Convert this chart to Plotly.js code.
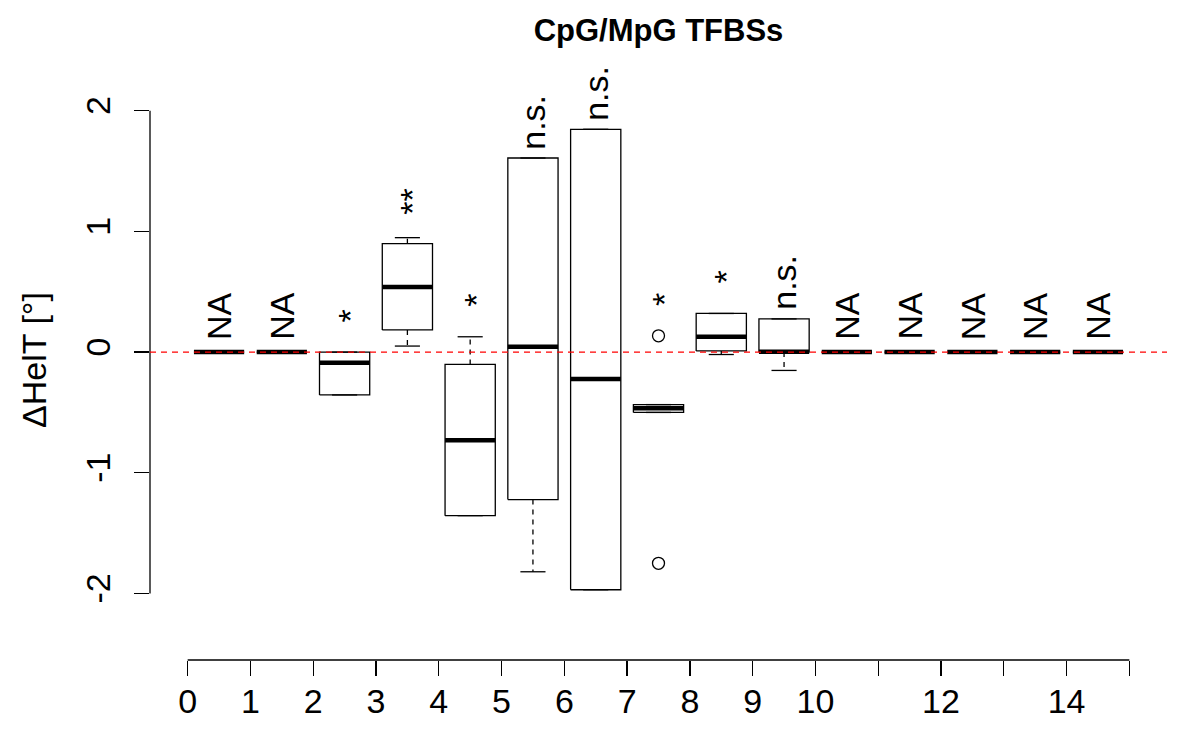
<!DOCTYPE html>
<html>
<head>
<meta charset="utf-8">
<script src="https://cdn.plot.ly/plotly-3.0.1.min.js"></script>
<style>html,body{margin:0;padding:0;background:#fff;}#chart{width:1200px;height:750px;}</style>
</head>
<body>
<div id="chart"></div>
<script>
// ---- data ----
const groups      = [0,1,2,3,4,5,6,7,8,9,10,11,12,13,14];
const lowerFence  = [0, 0, -0.355, 0.050, -1.355, -1.820, -1.969, -0.500, -0.020, -0.152, 0, 0, 0, 0, 0];
const q1Values    = [0, 0, -0.355, 0.184, -1.355, -1.222, -1.969, -0.500,  0.010,  0.000, 0, 0, 0, 0, 0];
const medians     = [0, 0, -0.088, 0.540, -0.730,  0.045, -0.223, -0.465,  0.128,  0.003, 0, 0, 0, 0, 0];
const q3Values    = [0, 0,  0.000, 0.898, -0.102,  1.608,  1.846, -0.435,  0.320,  0.275, 0, 0, 0, 0, 0];
const upperFence  = [0, 0,  0.000, 0.948,  0.127,  1.608,  1.846, -0.435,  0.320,  0.275, 0, 0, 0, 0, 0];
const outlierGroup  = [7, 7];
const outlierValues = [0.135, -1.750];
const sigLabels   = ["NA","NA","*","**","*","n.s.","n.s.","*","*","n.s.","NA","NA","NA","NA","NA"];
const xTickValues = [0,1,2,3,4,5,6,7,8,9,10,11,12,13,14,15];
const xTickLabels = ["0","1","2","3","4","5","6","7","8","9","10","","12","","14",""];
const yTickValues = [-2,-1,0,1,2];
const yTickLabels = ["-2","-1","0","1","2"];
const titleText   = "CpG/MpG TFBSs";
const yTitleText  = "\u0394HelT [\u00b0]";

// ---- geometry helpers (R boxplot defaults) ----
const halfBox = 0.4, halfStaple = 0.2, labelGap = 0.3;
const FONT = "Liberation Sans, Arial, Helvetica, sans-serif";

const boxX = [], boxY = [], medX = [], medY = [], whX = [], whY = [], capX = [], capY = [];
groups.forEach((g, i) => {
  const c = g + 0.5;
  boxX.push(c - halfBox, c + halfBox, c + halfBox, c - halfBox, c - halfBox, null);
  boxY.push(q1Values[i], q1Values[i], q3Values[i], q3Values[i], q1Values[i], null);
  medX.push(c - halfBox, c + halfBox, null);
  medY.push(medians[i], medians[i], null);
  if (upperFence[i] > q3Values[i]) { whX.push(c, c, null); whY.push(q3Values[i], upperFence[i], null); }
  if (lowerFence[i] < q1Values[i]) { whX.push(c, c, null); whY.push(q1Values[i], lowerFence[i], null); }
  capX.push(c - halfStaple, c + halfStaple, null, c - halfStaple, c + halfStaple, null);
  capY.push(upperFence[i], upperFence[i], null, lowerFence[i], lowerFence[i], null);
});

const traces = [
  { x: whX, y: whY, mode: 'lines', line: {color: '#000', width: 1.3, dash: '5px,5px'}, hoverinfo: 'skip', showlegend: false },
  { x: capX, y: capY, mode: 'lines', line: {color: '#000', width: 1.3}, hoverinfo: 'skip', showlegend: false },
  { x: boxX, y: boxY, mode: 'lines', fill: 'none', line: {color: '#000', width: 1.3}, hoverinfo: 'skip', showlegend: false },
  { x: medX, y: medY, mode: 'lines', line: {color: '#000', width: 4.5}, hoverinfo: 'skip', showlegend: false },
  { x: outlierGroup.map(g => g + 0.5), y: outlierValues, mode: 'markers',
    marker: {symbol: 'circle-open', size: 12, color: '#000', line: {width: 1.3, color: '#000'}},
    hoverinfo: 'skip', showlegend: false }
];

const annotations = groups.map((g, i) => {
  let top = upperFence[i];
  outlierGroup.forEach((og, k) => { if (og === g) top = Math.max(top, outlierValues[k]); });
  const isStar = /^\*+$/.test(sigLabels[i]);
  return { x: g + 0.5, y: top + labelGap, xref: 'x', yref: 'y', text: sigLabels[i],
           xshift: isStar ? 5 : 0,
           showarrow: false, textangle: -90, font: {family: FONT, size: 34, color: '#000'} };
});

const layout = {
  width: 1200, height: 750,
  margin: {l: 150, r: 32.6, t: 60, b: 90},
  paper_bgcolor: '#fff', plot_bgcolor: '#fff',
  font: {family: FONT, color: '#000'},
  title: {text: '<b>' + titleText + '</b>', font: {family: FONT, size: 31, color: '#000'},
          x: 0.5, xref: 'paper', y: 1 - 30/750, yref: 'container', yanchor: 'middle'},
  xaxis: {range: [-0.6, 15.6], tickmode: 'array', tickvals: xTickValues, ticktext: xTickLabels,
          ticks: 'outside', ticklen: 15, tickwidth: 1.3, tickcolor: '#000', ticklabelstandoff: -4,
          showgrid: false, zeroline: false, showline: false,
          tickfont: {family: FONT, size: 34, color: '#000'}},
  yaxis: {range: [-2.551, 2.42], tickmode: 'array', tickvals: yTickValues, ticktext: yTickLabels,
          ticks: 'outside', ticklen: 15, tickwidth: 1.3, tickcolor: '#000', tickangle: -90,
          ticklabelstandoff: 10,
          showgrid: false, zeroline: false, showline: false,
          tickfont: {family: FONT, size: 34, color: '#000'},
          title: {text: yTitleText, font: {family: FONT, size: 34, color: '#000'}, standoff: 22}},
  shapes: [
    {type: 'line', xref: 'x', yref: 'paper', x0: xTickValues[0], x1: xTickValues[xTickValues.length-1], y0: 0, y1: 0,
     line: {color: '#000', width: 1.3}},
    {type: 'line', xref: 'paper', yref: 'y', x0: 0, x1: 0, y0: yTickValues[0], y1: yTickValues[yTickValues.length-1],
     line: {color: '#000', width: 1.3}},
    {type: 'line', xref: 'paper', yref: 'y', x0: 0, x1: 1, y0: 0, y1: 0, layer: 'above',
     line: {color: '#ff0000', width: 1.3, dash: '6px,5px'}}
  ],
  annotations: annotations
};

Plotly.newPlot('chart', traces, layout, {displayModeBar: false, staticPlot: true});
</script>
</body>
</html>
